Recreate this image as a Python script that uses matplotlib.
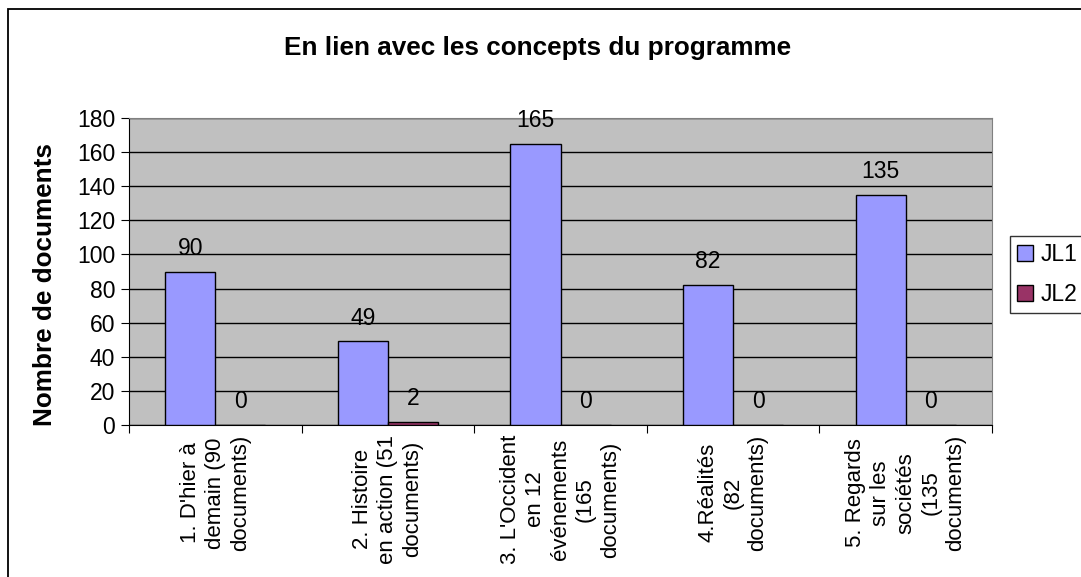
import matplotlib.pyplot as plt
import matplotlib.patches as patches
import numpy as np

plt.rcParams['font.family'] = ['Liberation Sans', 'DejaVu Sans']

# data
categories = ["1. D'hier à\ndemain (90\ndocuments)",
              "2. Histoire\nen action (51\ndocuments)",
              "3. L'Occident\nen 12\névénements\n(165\ndocuments)",
              "4.Réalités\n(82\ndocuments)",
              "5. Regards\nsur les\nsociétés\n(135\ndocuments)"]
jl1 = [90, 49, 165, 82, 135]
jl2 = [0, 2, 0, 0, 0]
series_names = ['JL1', 'JL2']
yticks = [0, 20, 40, 60, 80, 100, 120, 140, 160, 180]

fig = plt.figure(figsize=(10.81, 5.77), dpi=100)
ax = fig.add_axes([129/1081, 152/577, 863/1081, 307/577])

# outer chart frame (runs off the right and bottom edges)
fig.patches.append(patches.Rectangle((8/1081, -0.05), 1.2, 1 - 9/577 + 0.05,
                                     transform=fig.transFigure, fill=False,
                                     edgecolor='black', linewidth=1.3))

ax.set_facecolor('#C0C0C0')
centers = np.arange(len(categories)) + 0.5
w = 0.29
b1 = ax.bar(centers - w/2, jl1, w, color='#9999FF', edgecolor='black', linewidth=1, label=series_names[0], zorder=3)
b2 = ax.bar(centers + w/2, jl2, w, color='#993366', edgecolor='black', linewidth=1, label=series_names[1], zorder=3)

for bars, vals in ((b1, jl1), (b2, jl2)):
    for rect, v in zip(bars, vals):
        ax.annotate(str(v), (rect.get_x() + rect.get_width()/2, v),
                    xytext=(0, 8.5), textcoords='offset points',
                    ha='center', va='bottom', fontsize=16.5)

ax.set_xlim(0, 5)
ax.set_ylim(0, 180)
ax.set_yticks(yticks)
ax.yaxis.grid(True, color='black', linewidth=1)
ax.set_axisbelow(True)
ax.tick_params(axis='y', labelsize=16.5, length=6, direction='out', pad=4)

ax.set_xticks(range(6))
ax.set_xticklabels([])
ax.set_xticks(centers, minor=True)
ax.set_xticklabels(categories, minor=True, rotation=90, ha='center', va='top',
                   multialignment='center', fontsize=16, linespacing=1.25)
ax.tick_params(axis='x', which='major', length=6, direction='out')
ax.tick_params(axis='x', which='minor', length=0, pad=7)

for s in ('top', 'right'):
    ax.spines[s].set_color('#808080')
for s in ('left', 'bottom'):
    ax.spines[s].set_color('black')

fig.text(45/1081, 1 - 284/577, 'Nombre de documents', rotation=90,
         ha='center', va='center', fontsize=18.8, fontweight='bold')
fig.text(538/1081, 1 - 48/577, 'En lien avec les concepts du programme',
         ha='center', va='center', fontsize=18.8, fontweight='bold')

leg = fig.legend(loc='upper left', bbox_to_anchor=(1010/1081, 1 - 236/577),
                 fontsize=16.5, frameon=True, fancybox=False, edgecolor='black',
                 handlelength=0.7, handleheight=0.7, handletextpad=0.35,
                 borderpad=0.3, labelspacing=0.75, borderaxespad=0)
leg.get_frame().set_linewidth(1)

fig.savefig('out.png', dpi=100)
